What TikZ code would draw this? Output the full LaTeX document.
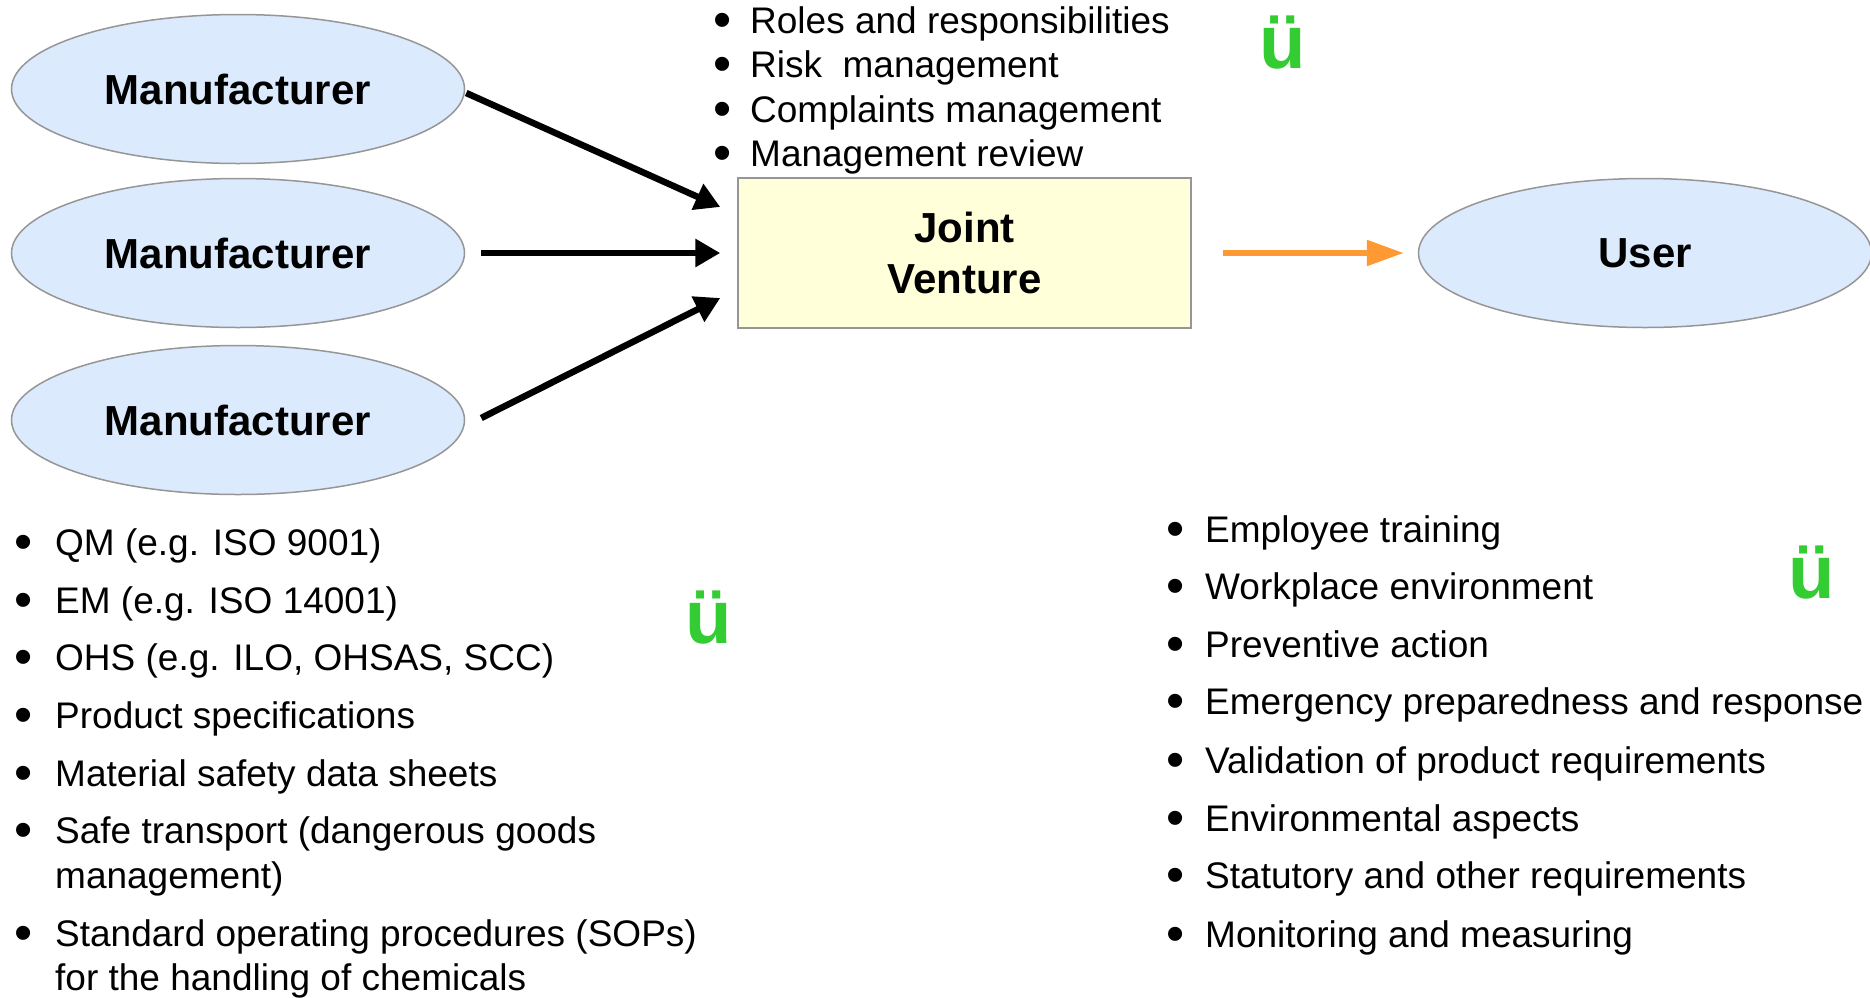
\documentclass[tikz,border=0pt]{standalone}
\usepackage{fontspec}
\setmainfont{Liberation Sans}
\usetikzlibrary{arrows.meta,shapes.geometric}
\definecolor{ellfill}{RGB}{219,234,252}
\definecolor{boxfill}{RGB}{255,255,217}
\definecolor{edgegray}{RGB}{150,150,150}
\definecolor{arroworange}{RGB}{255,153,51}
\definecolor{checkgreen}{RGB}{51,204,51}
\newcommand{\blt}[1]{\makebox[#1][l]{\smash{\raisebox{-4.2pt}{\scalebox{1.4}{•}}}}}
\begin{document}
\begin{tikzpicture}[x=1pt,y=-1pt,
  party/.style={ellipse, draw=edgegray, line width=1.5pt, fill=ellfill,
    minimum width=453pt, minimum height=149pt, inner sep=0pt,
    font=\fontsize{42}{48}\selectfont\bfseries},
  jvbox/.style={rectangle, draw=edgegray, line width=1.5pt, fill=boxfill,
    minimum width=453pt, minimum height=150pt, align=center,
    font=\fontsize{42}{51}\selectfont\bfseries},
  item/.style={anchor=base west, inner sep=0pt, font=\fontsize{37}{45}\selectfont},
  check/.style={text=checkgreen, inner sep=0pt, font=\fontsize{76}{80}\selectfont\bfseries},
  flow/.style={line width=6.5pt, -{Triangle[length=25pt,width=27pt]}},
  oflow/.style={draw=arroworange, line width=5.5pt,
    -{Triangle[length=37pt,width=25pt,fill=arroworange]}},
]
\useasboundingbox (0,0) rectangle (1870,997);

\node[party] (m1) at (238,89) {Manufacturer};
\node[party] (m2) at (238,253) {Manufacturer};
\node[party] (m3) at (238,420) {Manufacturer};
\node[jvbox] (jv) at (964.5,253) {Joint\\Venture};
\node[party] (user) at (1645,253) {User};

\coordinate (t1) at ([xshift=-17pt,yshift=46pt]jv.west);
\coordinate (t3) at ([xshift=-17pt,yshift=-45pt]jv.west);
\coordinate (s1) at ([xshift=1pt,yshift=-4pt]m1.east);
\coordinate (s3) at ([xshift=16pt,yshift=2pt]m3.east);

\draw[flow] (s1) -- (t1);
\draw[flow, shorten <=16pt, shorten >=17pt] (m2.east) -- (jv.west);
\draw[flow] (s3) -- (t3);
\draw[oflow, shorten <=31pt, shorten >=14pt] (jv.east) -- (user.west);

% top list
\node[item] (r1) at (713,33) {\blt{37pt}Roles and responsibilities};
\node[item] (r2) at (713,77) {\blt{37pt}Risk\ \ management};
\node[item] (r3) at (713,122) {\blt{37pt}Complaints management};
\node[item] (r4) at (713,166) {\blt{37pt}Management review};

% left list
\node[item] (a1) at (14,555) {\blt{41pt}QM (e.g. ISO 9001)};
\node[item] (a2) at (14,613) {\blt{41pt}EM (e.g. ISO 14001)};
\node[item] (a3) at (14,670) {\blt{41pt}OHS (e.g. ILO, OHSAS, SCC)};
\node[item] (a4) at (14,728) {\blt{41pt}Product specifications};
\node[item] (a5) at (14,786) {\blt{41pt}Material safety data sheets};
\node[item] (a6) at (14,843) {\blt{41pt}Safe transport (dangerous goods};
\node[item] (a6b) at (55,888) {management)};
\node[item] (a7) at (14,946) {\blt{41pt}Standard operating procedures (SOPs)};
\node[item] (a7b) at (55,990) {for the handling of chemicals};

% right list
\node[item] (b1) at (1166,542) {\blt{39pt}Employee training};
\node[item] (b2) at (1166,599) {\blt{39pt}Workplace environment};
\node[item] (b3) at (1166,657) {\blt{39pt}Preventive action};
\node[item] (b4) at (1166,714) {\blt{39pt}Emergency preparedness and response};
\node[item] (b5) at (1166,773) {\blt{39pt}Validation of product requirements};
\node[item] (b6) at (1166,831) {\blt{39pt}Environmental aspects};
\node[item] (b7) at (1166,888) {\blt{39pt}Statutory and other requirements};
\node[item] (b8) at (1166,947) {\blt{39pt}Monitoring and measuring};

% checks
\node[check] (c1) at (1283,43) {ü};
\node[check] (c2) at (709,618) {ü};
\node[check] (c3) at (1812,573) {ü};
\end{tikzpicture}
\end{document}
